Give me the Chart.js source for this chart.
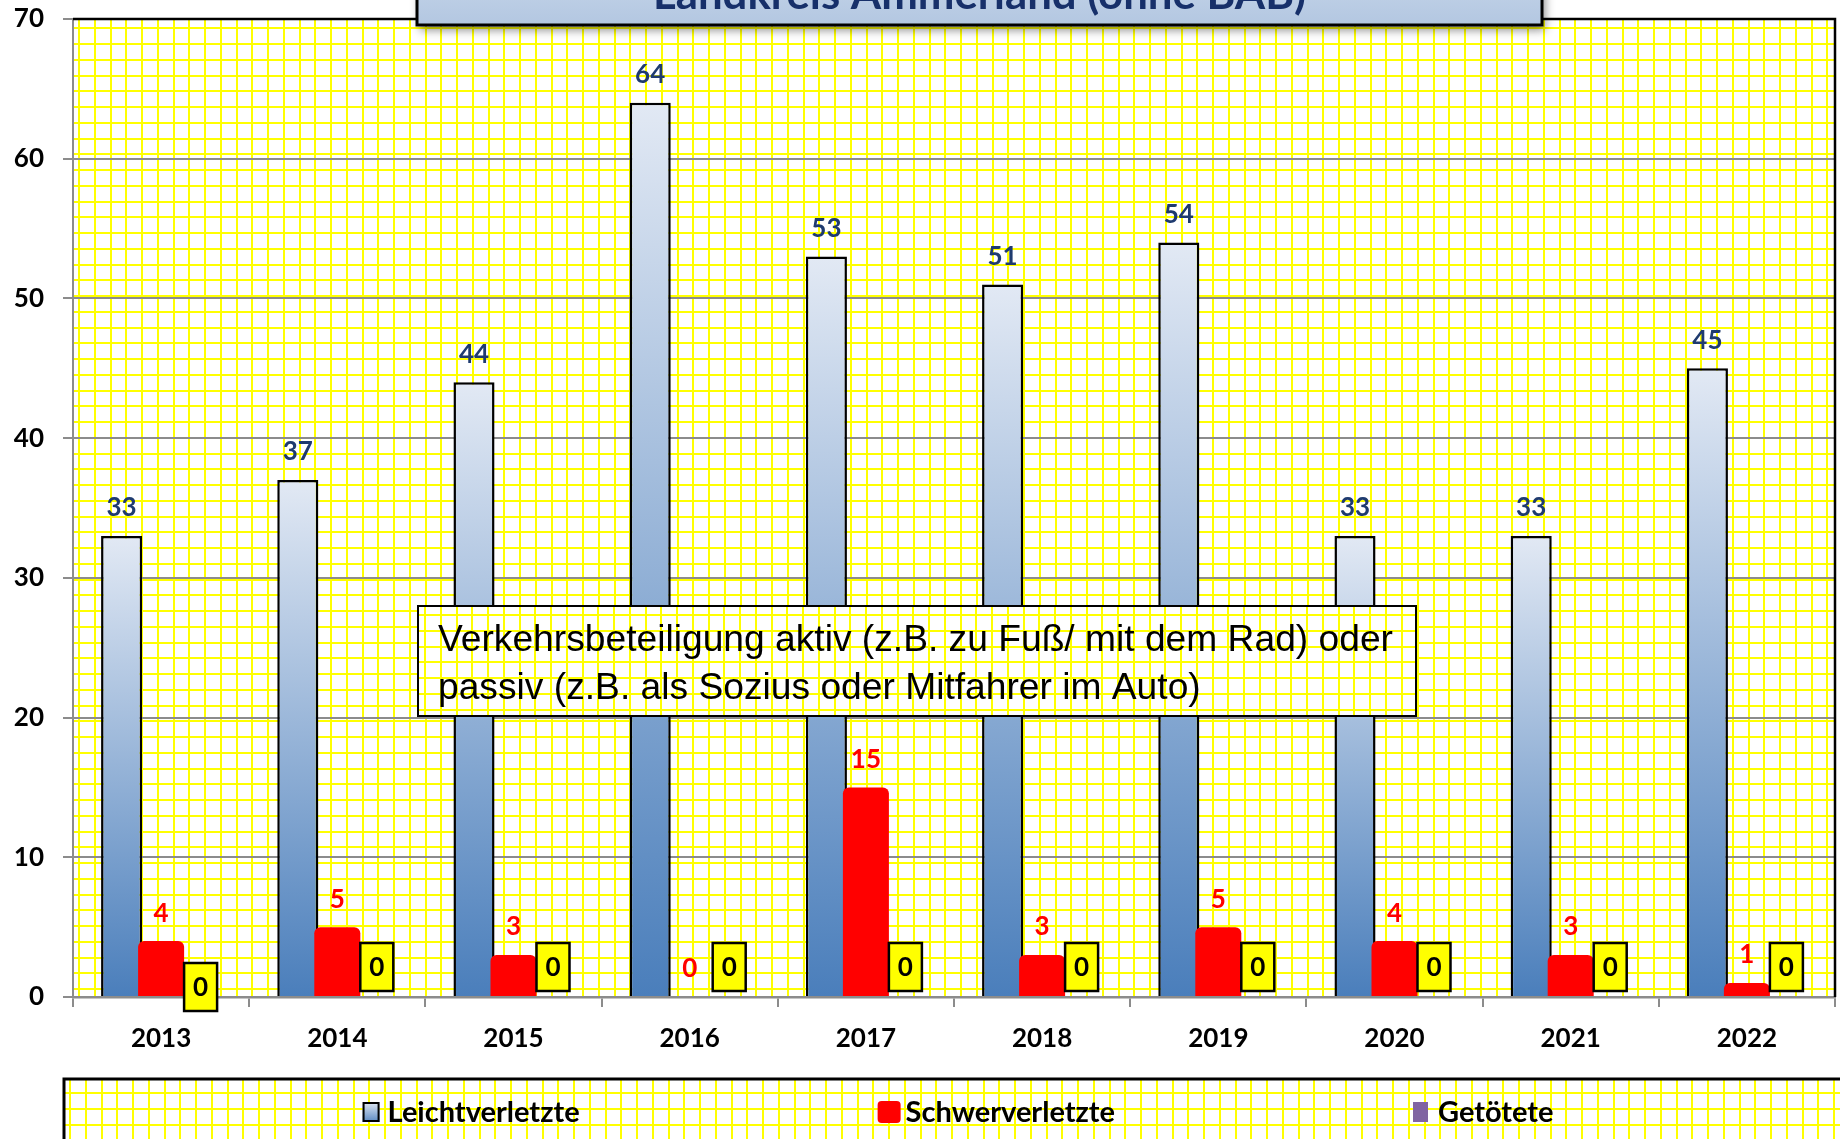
<!DOCTYPE html>
<html>
<head>
<meta charset="utf-8">
<script src="https://cdn.jsdelivr.net/npm/chart.js@4.4.1/dist/chart.umd.min.js"></script>
<style>
html,body{margin:0;padding:0;background:#fff;}
canvas{display:block;}
</style>
</head>
<body>
<canvas id="c" width="1840" height="1139"></canvas>
<script>
// ---- data ----
const categories = ['2013','2014','2015','2016','2017','2018','2019','2020','2021','2022'];
const leichtverletzte = [33, 37, 44, 64, 53, 51, 54, 33, 33, 45];
const schwerverletzte = [4, 5, 3, 0, 15, 3, 5, 4, 3, 1];
const getoetete = [0, 0, 0, 0, 0, 0, 0, 0, 0, 0];
const seriesLabels = ['Leichtverletzte', 'Schwerverletzte', 'Getötete'];
const yMin = 0, yMax = 70, yStep = 10;
const titleText = 'Landkreis Ammerland (ohne BAB)';
const noteLines = ['Verkehrsbeteiligung aktiv (z.B. zu Fuß/ mit dem Rad) oder',
                   'passiv (z.B. als Sozius oder Mitfahrer im Auto)'];

// ---- styles / layout ----
const FONT = 'Lato';
const GRAY = '#8c8c8c';
const NAVY = '#1f3b6f';
const labelNudge = {0: 20}; // first "Getötete" label box sits lower

function blueGradient(c) {
  const chart = c.chart;
  if (c.type !== 'data' || !chart.chartArea) return '#4f81bd';
  const ys = chart.scales.y;
  const top = ys.getPixelForValue(c.raw), bot = ys.getPixelForValue(0);
  const g = chart.ctx.createLinearGradient(0, top, 0, bot);
  g.addColorStop(0, '#e2e9f4');
  g.addColorStop(1, '#4a7ebb');
  return g;
}

function drawPattern(ctx, x, y, w, h, ox, oy) {
  ctx.save();
  ctx.beginPath(); ctx.rect(x, y, w, h); ctx.clip();
  ctx.fillStyle = '#fff'; ctx.fillRect(x, y, w, h);
  ctx.strokeStyle = '#ffff00'; ctx.lineWidth = 2;
  ctx.beginPath();
  const step = 15.75;
  for (let px = ox; px < x + w; px += step) { const p = Math.round(px); ctx.moveTo(p, y); ctx.lineTo(p, y + h); }
  for (let py = oy; py < y + h; py += step) { const p = Math.round(py); ctx.moveTo(x, p); ctx.lineTo(x + w, p); }
  ctx.stroke();
  ctx.restore();
}

function fitText(ctx, text, x, y, targetW) {
  const w = ctx.measureText(text).width;
  const s = targetW / w;
  ctx.save(); ctx.translate(x, y); ctx.scale(s, 1); ctx.fillText(text, 0, 0); ctx.restore();
  return s;
}

const decor = {
  id: 'decor',
  beforeDraw(chart) {
    const {ctx, chartArea: a} = chart;
    ctx.save(); ctx.fillStyle = '#fff'; ctx.fillRect(0, 0, chart.width, chart.height); ctx.restore();
    drawPattern(ctx, a.left, a.top, a.right - a.left, a.bottom - a.top, a.left + 6, a.top + 9.4);
  },
  beforeDatasetsDraw(chart) {
    const {ctx, chartArea: a} = chart;
    ctx.save();
    ctx.strokeStyle = '#000'; ctx.lineWidth = 2.5;
    ctx.beginPath(); ctx.moveTo(a.left, a.top); ctx.lineTo(a.right, a.top); ctx.lineTo(a.right, a.bottom); ctx.stroke();
    ctx.restore();
    ctx.save();
    ctx.beginPath(); ctx.rect(a.left, a.top - 5, a.right - a.left, a.bottom - a.top + 5); ctx.clip();
    chart.data.datasets.forEach((ds, i) => {
      const m = chart.getDatasetMeta(i);
      if (chart.isDatasetVisible(i)) m.controller.draw();
    });
    ctx.restore();
    return false;
  },
  afterDraw(chart) {
    const ctx = chart.ctx;
    const m0 = chart.getDatasetMeta(0), m1 = chart.getDatasetMeta(1), m2 = chart.getDatasetMeta(2);
    // value labels
    ctx.save();
    ctx.font = 'bold 26px ' + FONT; ctx.textAlign = 'center'; ctx.textBaseline = 'middle';
    m0.data.forEach((el, i) => { ctx.fillStyle = NAVY; ctx.fillText(String(leichtverletzte[i]), el.x, el.y - 28); });
    m1.data.forEach((el, i) => { ctx.fillStyle = '#ff0000'; ctx.fillText(String(schwerverletzte[i]), el.x, el.y - 28); });
    m2.data.forEach((el, i) => {
      const cy = el.y - 30 + (labelNudge[i] || 0);
      const bw = 33, bh = 48;
      ctx.fillStyle = '#ffff00'; ctx.fillRect(el.x - bw / 2, cy - bh / 2, bw, bh);
      ctx.strokeStyle = '#000'; ctx.lineWidth = 2.5; ctx.strokeRect(el.x - bw / 2, cy - bh / 2, bw, bh);
      ctx.fillStyle = '#000'; ctx.fillText(String(getoetete[i]), el.x, cy + 1);
    });
    ctx.restore();

    // note box
    ctx.save();
    const nx = 418, ny = 606, nw = 998, nh = 110;
    drawPattern(ctx, nx, ny, nw, nh, nx + 7, ny + 9);
    ctx.strokeStyle = '#000'; ctx.lineWidth = 2; ctx.strokeRect(nx, ny, nw, nh);
    ctx.fillStyle = '#000'; ctx.font = '36px "Liberation Sans", Arial, sans-serif';
    ctx.textAlign = 'left'; ctx.textBaseline = 'alphabetic';
    const s = 955 / ctx.measureText(noteLines[0]).width;
    noteLines.forEach((t, i) => {
      ctx.save(); ctx.translate(438, 651 + i * 48); ctx.scale(s, 1); ctx.fillText(t, 0, 0); ctx.restore();
    });
    ctx.restore();

    // title box (cut off at top)
    ctx.save();
    ctx.shadowColor = 'rgba(0,0,0,0.45)'; ctx.shadowBlur = 9; ctx.shadowOffsetX = 3; ctx.shadowOffsetY = 5;
    const tg = ctx.createLinearGradient(0, -40, 0, 25);
    tg.addColorStop(0, '#c9d8eb'); tg.addColorStop(1, '#b3c7e1');
    ctx.fillStyle = tg; ctx.fillRect(417, -40, 1125, 65);
    ctx.restore();
    ctx.save();
    ctx.strokeStyle = '#000'; ctx.lineWidth = 3; ctx.strokeRect(417, -40, 1125, 65);
    ctx.fillStyle = '#17306a'; ctx.font = 'bold 42px ' + FONT; ctx.textAlign = 'center'; ctx.textBaseline = 'alphabetic';
    fitText(ctx, titleText, 979.5, 9, 653);
    ctx.restore();

    // legend box
    ctx.save();
    const lx = 64, ly = 1079;
    drawPattern(ctx, lx, ly, chart.width - lx + 10, chart.height - ly + 10, lx + 6, ly + 14);
    ctx.strokeStyle = '#000'; ctx.lineWidth = 3;
    ctx.beginPath(); ctx.moveTo(lx, chart.height + 5); ctx.lineTo(lx, ly); ctx.lineTo(chart.width + 5, ly); ctx.stroke();
    ctx.font = 'bold 29px ' + FONT; ctx.textBaseline = 'middle'; ctx.textAlign = 'left';
    const markers = [{w: 17, h: 20, gap: 8}, {w: 23, h: 22, gap: 5}, {w: 15, h: 20, gap: 10}];
    const widths = seriesLabels.map((t, i) => markers[i].w + markers[i].gap + ctx.measureText(t).width);
    const GAP = 298;
    const total = widths.reduce((a, b) => a + b, 0) + GAP * (widths.length - 1);
    let x = 958 - total / 2;
    const cy = 1112;
    seriesLabels.forEach((t, i) => {
      const mk = markers[i];
      if (i === 0) {
        const g = ctx.createLinearGradient(0, cy - mk.h / 2, 0, cy + mk.h / 2);
        g.addColorStop(0, '#e2e9f4'); g.addColorStop(1, '#5a88c2');
        ctx.fillStyle = g; ctx.fillRect(x, cy - mk.h / 2, mk.w, mk.h);
        ctx.strokeStyle = '#000'; ctx.lineWidth = 2; ctx.strokeRect(x + 1, cy - mk.h / 2 + 1, mk.w - 2, mk.h - 2);
      } else if (i === 1) {
        ctx.fillStyle = '#ff0000';
        ctx.beginPath(); ctx.roundRect(x, cy - mk.h / 2, mk.w, mk.h, 4); ctx.fill();
      } else {
        ctx.fillStyle = '#8064a2'; ctx.fillRect(x, cy - mk.h / 2, mk.w, mk.h);
      }
      ctx.fillStyle = '#000';
      ctx.fillText(t, x + mk.w + mk.gap, cy + 1);
      x += widths[i] + GAP;
    });
    ctx.restore();
  }
};

const CAT_PCT = 0.6725;

function build() {
  new Chart(document.getElementById('c'), {
    type: 'bar',
    data: {
      labels: categories,
      datasets: [
        { label: seriesLabels[0], data: leichtverletzte, backgroundColor: blueGradient,
          borderColor: '#000', borderWidth: 2.5, borderSkipped: 'start',
          barPercentage: 1.04, categoryPercentage: CAT_PCT },
        { label: seriesLabels[1], data: schwerverletzte, backgroundColor: '#ff0000',
          borderWidth: 0, borderRadius: {topLeft: 6, topRight: 6, bottomLeft: 0, bottomRight: 0},
          borderSkipped: 'start', barPercentage: 1.165, categoryPercentage: CAT_PCT },
        { label: seriesLabels[2], data: getoetete, backgroundColor: '#8064a2',
          borderWidth: 0, barPercentage: 1.0, categoryPercentage: CAT_PCT }
      ]
    },
    options: {
      responsive: false, animation: false, devicePixelRatio: 1,
      layout: { padding: { top: 19, right: 5, left: 0, bottom: 0 } },
      plugins: { legend: { display: false }, tooltip: { enabled: false }, title: { display: false } },
      scales: {
        x: {
          grid: { drawOnChartArea: false, drawTicks: true, tickLength: 10, color: GRAY, lineWidth: 2, offset: true },
          border: { color: GRAY, width: 2.5 },
          ticks: { color: '#000', font: { family: FONT, weight: 'bold', size: 26 }, padding: 16, maxRotation: 0, autoSkip: false },
          afterFit: s => { s.height = 142; s.paddingLeft = 0; s.paddingRight = 0; }
        },
        y: {
          min: yMin, max: yMax,
          ticks: { stepSize: yStep, color: '#000', font: { family: FONT, weight: 'bold', size: 26 }, padding: 19 },
          grid: { color: GRAY, lineWidth: 2, tickLength: 10 },
          border: { color: GRAY, width: 2 },
          afterFit: s => { s.width = 73; s.paddingTop = 0; s.paddingBottom = 0; }
        }
      }
    },
    plugins: [decor]
  });
}

if (document.fonts && document.fonts.load) {
  Promise.all([document.fonts.load('bold 26px Lato'), document.fonts.load('36px "Liberation Sans"')])
    .then(build, build);
} else { build(); }
</script>
</body>
</html>
